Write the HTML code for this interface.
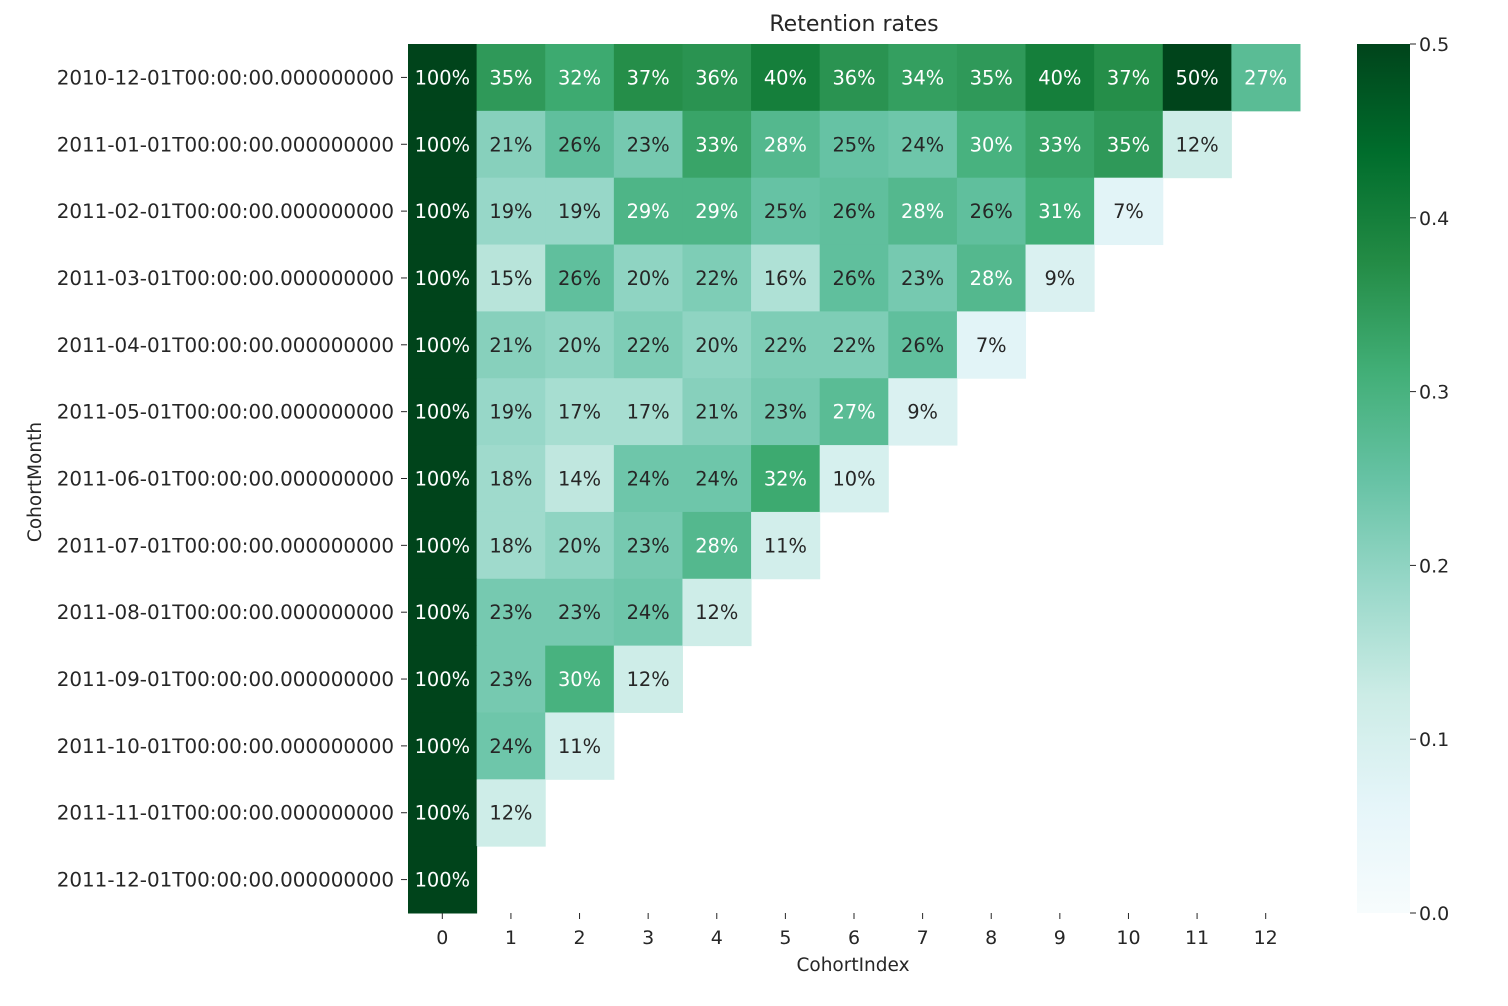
<!DOCTYPE html>
<html><head><meta charset="utf-8"><style>
body{margin:0;background:#fff;}
svg{display:block;font-family:"DejaVu Sans","Liberation Sans",sans-serif;}
</style></head><body>
<svg id="chart" width="1508" height="1006">
<defs><linearGradient id="cbg" x1="0" y1="1" x2="0" y2="0">
<stop offset="0" stop-color="#f7fcfd"/><stop offset="0.125" stop-color="#e5f5f9"/><stop offset="0.25" stop-color="#ccece6"/><stop offset="0.375" stop-color="#99d8c9"/><stop offset="0.5" stop-color="#66c2a4"/><stop offset="0.625" stop-color="#41ae76"/><stop offset="0.75" stop-color="#238b45"/><stop offset="0.875" stop-color="#006d2c"/><stop offset="1" stop-color="#00441b"/></linearGradient></defs>
<text x="854" y="31" text-anchor="middle" font-size="22" fill="#262626">Retention rates</text>
<g id="cells"></g>
<g id="labels"></g>
<text x="853" y="971" font-size="18.5" fill="#262626" text-anchor="middle">CohortIndex</text>
<text font-size="18.5" fill="#262626" text-anchor="middle" transform="translate(41 482) rotate(-90)">CohortMonth</text>
<rect x="1357" y="44" width="53" height="869" fill="url(#cbg)"/>
<g id="cbticks"></g>
</svg>
<script>
const cohorts=["2010-12-01","2011-01-01","2011-02-01","2011-03-01","2011-04-01","2011-05-01","2011-06-01","2011-07-01","2011-08-01","2011-09-01","2011-10-01","2011-11-01","2011-12-01"];
const indices=[0,1,2,3,4,5,6,7,8,9,10,11,12];
const r0=[100,35,32,37,36,40,36,34,35,40,37,50,27];
const r1=[100,21,26,23,33,28,25,24,30,33,35,12];
const r2=[100,19,19,29,29,25,26,28,26,31,7];
const r3=[100,15,26,20,22,16,26,23,28,9];
const r4=[100,21,20,22,20,22,22,26,7];
const r5=[100,19,17,17,21,23,27,9];
const r6=[100,18,14,24,24,32,10];
const r7=[100,18,20,23,28,11];
const r8=[100,23,23,24,12];
const r9=[100,23,30,12];
const r10=[100,24,11];
const r11=[100,12];
const r12=[100];
const rows=[r0,r1,r2,r3,r4,r5,r6,r7,r8,r9,r10,r11,r12];
const cbTicks=[0,0.1,0.2,0.3,0.4,0.5];
const vmax=0.5;
const X0=408,X1=1300,Y0=44,Y1=913;
const cw=(X1-X0)/indices.length, rh=(Y1-Y0)/cohorts.length;
const xPos=i=>X0+i*cw, yPos=j=>Y0+j*rh;
const stops=[[247,252,253],[229,245,249],[204,236,230],[153,216,201],[102,194,164],[65,174,118],[35,139,69],[0,109,44],[0,68,27]];
function cmap(v){let t=Math.max(0,Math.min(1,v/vmax))*8;let i=Math.min(7,Math.floor(t));let f=t-i;
return stops[i].map((c,k)=>Math.round(c+(stops[i+1][k]-c)*f));}
function lum(c){const l=c.map(x=>{x/=255;return x<=0.03928?x/12.92:Math.pow((x+0.055)/1.055,2.4)});return 0.2126*l[0]+0.7152*l[1]+0.0722*l[2];}
const NS="http://www.w3.org/2000/svg";
const cells=document.getElementById('cells'),labels=document.getElementById('labels');
function mk(tag,attrs,parent,txt){const e=document.createElementNS(NS,tag);for(const k in attrs)e.setAttribute(k,attrs[k]);if(txt!==undefined)e.textContent=txt;parent.appendChild(e);return e;}
rows.forEach((row,j)=>{
 row.forEach((v,i)=>{
  const c=cmap(v/100);
  const r=mk('rect',{x:xPos(i),y:yPos(j),width:cw+0.5,height:rh+0.5,fill:`rgb(${c})`},cells);
  
  
  const t=mk('text',{x:xPos(i)+cw/2,y:yPos(j)+rh/2+7,'text-anchor':'middle','font-size':19.4,fill:lum(c)>0.408?'#262626':'#ffffff'},cells,v+'%');
  
  
 });
 const yc=yPos(j)+rh/2;
 mk('line',{x1:401,x2:407,y1:yc,y2:yc,stroke:'#262626'},labels);
 const l=mk('text',{x:394,y:yc+7,'text-anchor':'end','font-size':19.9,fill:'#262626'},labels,cohorts[j]+'T00:00:00.000000000');
 
 
});
indices.forEach(i=>{
 const xc=xPos(i)+cw/2;
 mk('line',{x1:xc,x2:xc,y1:913,y2:919,stroke:'#262626'},labels);
 const l=mk('text',{x:xc,y:944,'text-anchor':'middle','font-size':19,fill:'#262626'},labels,String(i));
 
 
});
const cbt=document.getElementById('cbticks');
cbTicks.forEach(v=>{
 const y=913-v/vmax*869;
 mk('line',{x1:1410,x2:1416,y1:y,y2:y,stroke:'#262626'},cbt);
 const l=mk('text',{x:1419,y:y+7,'font-size':19,fill:'#262626'},cbt,v.toFixed(1));
 
 
});
</script>
</body></html>
